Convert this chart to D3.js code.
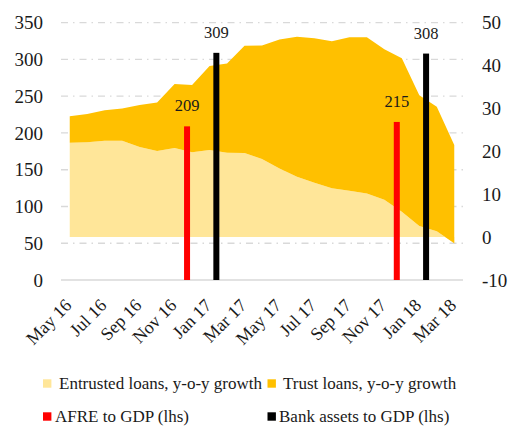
<!DOCTYPE html>
<html>
<head>
<meta charset="utf-8">
<script src="https://cdn.jsdelivr.net/npm/d3@7"></script>
<style>
  body { margin: 0; background: #fff; }
  svg { display: block; font-family: "Liberation Serif", serif; }
</style>
</head>
<body>
<div id="chart"></div>
<script>
// monthly categories May 16 .. Mar 18
var months = ["May 16","Jun 16","Jul 16","Aug 16","Sep 16","Oct 16","Nov 16","Dec 16",
  "Jan 17","Feb 17","Mar 17","Apr 17","May 17","Jun 17","Jul 17","Aug 17","Sep 17","Oct 17",
  "Nov 17","Dec 17","Jan 18","Feb 18","Mar 18"]

// y-o-y growth, % (rhs), stacked
var entrusted = [22.0,22.1,22.5,22.5,21.0,20.1,20.8,19.8,20.3,19.7,19.6,18.2,
  16.0,14.1,12.7,11.4,10.8,10.2,8.7,5.9,2.6,1.35,-1.45]
var trust = [6.2,6.6,7.1,7.5,9.8,11.3,14.9,15.7,19.6,20.8,25.0,26.5,
  30.1,32.6,33.7,34.3,35.8,36.4,35.1,35.8,30.5,29.05,22.95]

// ratios to GDP, % (lhs)
var barYears = ["2016","2017"]
var barAt = [7.55, 19.55]      // position on the month axis
var afre = [209, 215]
var bankAssets = [309, 308]

var leftTicks = [0,50,100,150,200,250,300,350]
var rightTicks = [-10,0,10,20,30,40,50]

var W = 509, H = 426
var svg = d3.select("#chart").append("svg")
  .attr("width", W).attr("height", H)

var x = d3.scalePoint().domain(months).range([61,463]).padding(0.5)
var xLin = d3.scaleLinear().domain([-0.5, months.length-0.5]).range([61,463])
var yL = d3.scaleLinear().domain([0,350]).range([280,22.7])
var yR = d3.scaleLinear().domain([-10,50]).range([280,22.7])

// gridlines
svg.append("g").selectAll("line")
  .data(leftTicks.filter(function(d){ return d > 0 })).enter().append("line")
  .attr("x1",61).attr("x2",463)
  .attr("y1",function(d){ return yL(d) }).attr("y2",function(d){ return yL(d) })
  .attr("stroke","#d9d9d9").attr("stroke-width",1.3)
  .attr("stroke-dasharray","7,5,1.5,5")

// stacked areas
var rows = months.map(function(m,i){ return {m:m, entrusted:entrusted[i], trust:trust[i]} })
var stacked = d3.stack().keys(["entrusted","trust"])(rows)
var colors = {entrusted:"#FFE699", trust:"#FFC000"}
var area = d3.area()
  .x(function(d){ return x(d.data.m) })
  .y0(function(d){ return yR(d[0]) })
  .y1(function(d){ return yR(d[1]) })

svg.append("g").selectAll("path")
  .data(stacked).enter().append("path")
  .attr("d", area)
  .attr("fill", function(d){ return colors[d.key] })

// baseline
svg.append("line").attr("x1",61).attr("x2",463)
  .attr("y1",yL(0)).attr("y2",yL(0))
  .attr("stroke","#d9d9d9").attr("stroke-width",1.5)

// columns
var sub = d3.scaleBand().domain(["afre","bank"]).range([-29.3,29.3])
var barData = []
barYears.forEach(function(yr,i){
  barData.push({key:"afre", at:barAt[i], v:afre[i], c:"#FF0000"})
  barData.push({key:"bank", at:barAt[i], v:bankAssets[i], c:"#000000"})
})
function bx(d){ return xLin(d.at) + sub(d.key) + sub.bandwidth()/2 }
var bw = 6

svg.append("g").selectAll("rect")
  .data(barData).enter().append("rect")
  .attr("x", function(d){ return bx(d) - bw/2 })
  .attr("y", function(d){ return yL(d.v) })
  .attr("width", bw)
  .attr("height", function(d){ return yL(0) - yL(d.v) })
  .attr("fill", function(d){ return d.c })

svg.append("g").selectAll("text")
  .data(barData).enter().append("text")
  .attr("x", bx)
  .attr("y", function(d){ return yL(d.v) - 15 })
  .attr("text-anchor","middle")
  .attr("font-size","16.5px").attr("fill","#1a1a1a")
  .text(function(d){ return d.v })

// axes (plain hyphen minus like the source)
var fmt = function(d){ return String(d) }
var leftAxis = d3.axisLeft(yL).tickValues(leftTicks).tickFormat(fmt).tickSize(0).tickPadding(18)
svg.append("g").attr("transform","translate(61,0)").call(leftAxis)
  .call(function(g){ g.select(".domain").remove() })
  .selectAll("text").attr("font-size","19px").attr("font-family","Liberation Serif").attr("fill","#1a1a1a")

var rightAxis = d3.axisRight(yR).tickValues(rightTicks).tickFormat(fmt).tickSize(0).tickPadding(19)
svg.append("g").attr("transform","translate(463,0)").call(rightAxis)
  .call(function(g){ g.select(".domain").remove() })
  .selectAll("text").attr("font-size","19px").attr("font-family","Liberation Serif").attr("fill","#1a1a1a")

var xAxis = d3.axisBottom(x).tickValues(months.filter(function(m,i){ return i%2==0 })).tickSize(0)
svg.append("g").attr("transform","translate(0,280)").call(xAxis)
  .call(function(g){ g.select(".domain").remove() })
  .selectAll("text")
  .attr("font-size","18px").attr("font-family","Liberation Serif").attr("fill","#1a1a1a")
  .attr("text-anchor","end")
  .attr("dy",null).attr("y",0)
  .attr("transform","translate(2.5,26.5) rotate(-45)")

// legend
var legend = [
  {label:"Entrusted loans, y-o-y growth", c:"#FFE699", x:43, y:383.5, tx:59},
  {label:"Trust loans, y-o-y growth", c:"#FFC000", x:267.5, y:383.5, tx:283},
  {label:"AFRE to GDP (lhs)", c:"#FF0000", x:43, y:416.5, tx:55},
  {label:"Bank assets to GDP (lhs)", c:"#000000", x:267.5, y:416.5, tx:279}
]
var lg = svg.append("g").selectAll("g").data(legend).enter().append("g")
lg.append("rect").attr("x",function(d){ return d.x }).attr("y",function(d){ return d.y-4.2 })
  .attr("width",8.4).attr("height",8.4).attr("fill",function(d){ return d.c })
lg.append("text").attr("x",function(d){ return d.tx }).attr("y",function(d){ return d.y+5.3 })
  .attr("font-size","17px").attr("fill","#1a1a1a")
  .text(function(d){ return d.label })
</script>
</body>
</html>
